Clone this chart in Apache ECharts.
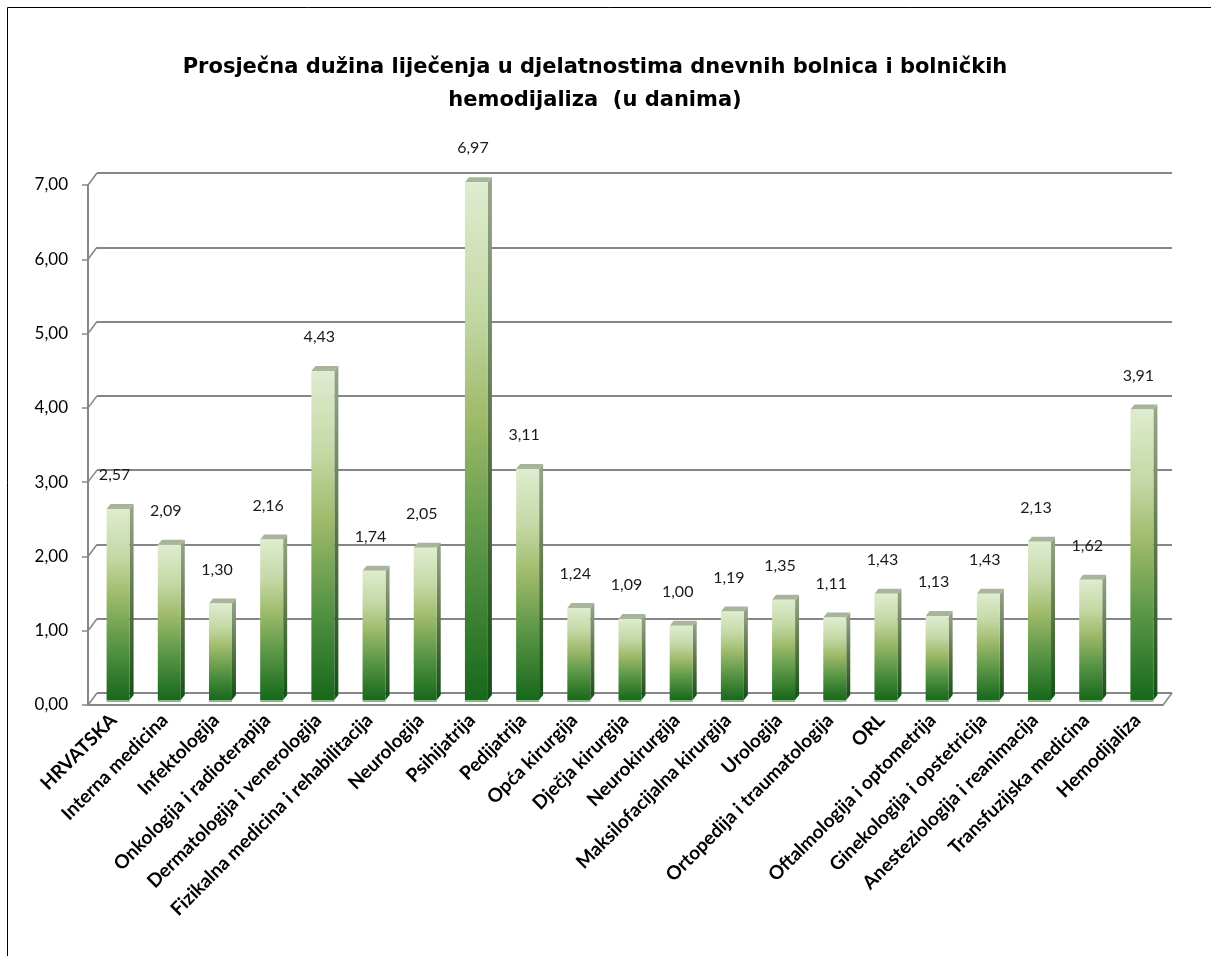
<!DOCTYPE html>
<html>
<head>
<meta charset="utf-8">
<script src="https://cdn.jsdelivr.net/npm/echarts@6/dist/echarts.min.js"></script>
<style>
  html, body { margin: 0; padding: 0; background: #fff; }
  #c { width: 1211px; height: 956px; }
</style>
</head>
<body>
<div id="c"></div>
<script>
// podaci
var kategorije = [
    'HRVATSKA', 'Interna medicina', 'Infektologija', 'Onkologija i radioterapija',
    'Dermatologija i venerologija', 'Fizikalna medicina i rehabilitacija', 'Neurologija',
    'Psihijatrija', 'Pedijatrija', 'Opća kirurgija', 'Dječja kirurgija', 'Neurokirurgija',
    'Maksilofacijalna kirurgija', 'Urologija', 'Ortopedija i traumatologija', 'ORL',
    'Oftalmologija i optometrija', 'Ginekologija i opstetricija', 'Anesteziologija i reanimacija',
    'Transfuzijska medicina', 'Hemodijaliza'
];
var vrijednosti = [2.57, 2.09, 1.30, 2.16, 4.43, 1.74, 2.05, 6.97, 3.11, 1.24, 1.09,
    1.00, 1.19, 1.35, 1.11, 1.43, 1.13, 1.43, 2.13, 1.62, 3.91];
var yOznake = [0, 1, 2, 3, 4, 5, 6, 7];

function fmt(v) { return v.toFixed(2).replace('.', ','); }

var sivo = '#868686';
var font = 'Lato, "Open Sans", sans-serif';

var myChart = echarts.init(document.getElementById('c'));

// stupci s 3D izgledom
function renderStupac(params, api) {
    var i = api.value(0), v = api.value(1);
    var p = api.coord([i, v]);
    var p0 = api.coord([i, 0]);
    var w = 23, dx = 4, dy = 5;
    var left = p[0] - 7, right = left + w;
    var bottom = p0[1] - 5, top = p[1] - 5;
    var h = bottom - top;
    return {
        type: 'group',
        children: [
            {
                type: 'polygon',
                shape: { points: [[right, top], [right + dx, top - dy], [right + dx, bottom - dy], [right, bottom]] },
                style: {
                    fill: new echarts.graphic.LinearGradient(0, 0, 0, 1, [
                        { offset: 0, color: '#98a68c' },
                        { offset: 0.5, color: '#5a7447' },
                        { offset: 1, color: '#134f15' }
                    ])
                }
            },
            {
                type: 'polygon',
                shape: { points: [[left, top], [right, top], [right + dx, top - dy], [left + dx, top - dy]] },
                style: { fill: '#a7b69b' }
            },
            {
                type: 'rect',
                shape: { x: left, y: top, width: w, height: h },
                style: {
                    fill: new echarts.graphic.LinearGradient(0, 0, 0, 1, [
                        { offset: 0, color: '#dfeccf' },
                        { offset: 0.25, color: '#c4d8a5' },
                        { offset: 0.45, color: '#9fbb6b' },
                        { offset: 0.7, color: '#5b9747' },
                        { offset: 1, color: '#17681b' }
                    ])
                }
            },
            {
                type: 'rect',
                shape: { x: left, y: bottom, width: w, height: 2 },
                style: { fill: '#8dbb88' }
            },
            {
                type: 'text',
                style: {
                    text: fmt(v), x: p[0] + 1, y: top - 34,
                    align: 'center', verticalAlign: 'middle',
                    font: '16px ' + font, fill: '#1a1a1a'
                }
            }
        ]
    };
}

// kose crtice između prednje osi i stražnjeg zida
function renderKosina(params, api) {
    var cs = params.coordSys;
    var y = api.coord([0, api.value(1)])[1];
    var ch = [{
        type: 'line',
        shape: { x1: cs.x, y1: y, x2: cs.x + 9, y2: y - 12 },
        style: { stroke: sivo, lineWidth: 1.5 }
    }];
    if (api.value(1) === 0) {
        ch.push({
            type: 'line',
            shape: { x1: cs.x + cs.width, y1: y, x2: cs.x + cs.width + 9, y2: y - 12 },
            style: { stroke: sivo, lineWidth: 1.5 }
        });
    }
    return { type: 'group', children: ch };
}

var option = {
    backgroundColor: '#fff',
    animation: false,
    title: {
        text: 'Prosječna dužina liječenja u djelatnostima dnevnih bolnica i bolničkih\nhemodijaliza  (u danima)',
        left: 590, top: 46, textAlign: 'center',
        textStyle: {
            fontFamily: '"DejaVu Sans", sans-serif', fontWeight: 'bold',
            fontSize: 21, lineHeight: 33, color: '#000'
        }
    },
    graphic: [{
        type: 'rect', silent: true,
        shape: { x: 7.5, y: 7.5, width: 1300, height: 1100 },
        style: { fill: null, stroke: '#000', lineWidth: 1 }
    }],
    grid: [
        { left: 88, right: 48, top: 185, bottom: 251 },
        { left: 97, right: 39, top: 173, bottom: 263 }
    ],
    xAxis: [
        {
            gridIndex: 0, type: 'category', data: kategorije,
            axisLine: { lineStyle: { color: sivo, width: 2 } },
            axisTick: { length: 6, lineStyle: { color: sivo } },
            axisLabel: {
                interval: 0, rotate: 45, margin: 12,
                fontFamily: font, fontWeight: 'bold', fontSize: 19, color: '#000'
            }
        },
        {
            gridIndex: 1, type: 'category', data: kategorije,
            axisLine: { show: false }, axisTick: { show: false }, axisLabel: { show: false }
        }
    ],
    yAxis: [
        {
            gridIndex: 0, type: 'value', min: 0, max: 7, interval: 1,
            axisLine: { show: true, lineStyle: { color: sivo, width: 2 } },
            axisTick: { show: true, length: 6, lineStyle: { color: sivo, width: 1.5 } },
            splitLine: { show: false },
            axisLabel: {
                margin: 20, fontFamily: font, fontSize: 17, color: '#000',
                formatter: function (v) { return fmt(v); }
            }
        },
        {
            gridIndex: 1, type: 'value', min: 0, max: 7, interval: 1,
            axisLine: { show: false }, axisTick: { show: false }, axisLabel: { show: false },
            splitLine: { show: true, lineStyle: { color: sivo, width: 2 } }
        }
    ],
    series: [
        {
            type: 'custom', name: 'kosine', xAxisIndex: 0, yAxisIndex: 0,
            renderItem: renderKosina,
            data: yOznake.map(function (v) { return [0, v]; }),
            z: 1
        },
        {
            type: 'custom', name: 'Prosječna dužina liječenja', xAxisIndex: 0, yAxisIndex: 0,
            renderItem: renderStupac,
            data: vrijednosti.map(function (v, i) { return [i, v]; }),
            z: 3
        }
    ]
};
myChart.setOption(option);
</script>
</body>
</html>
